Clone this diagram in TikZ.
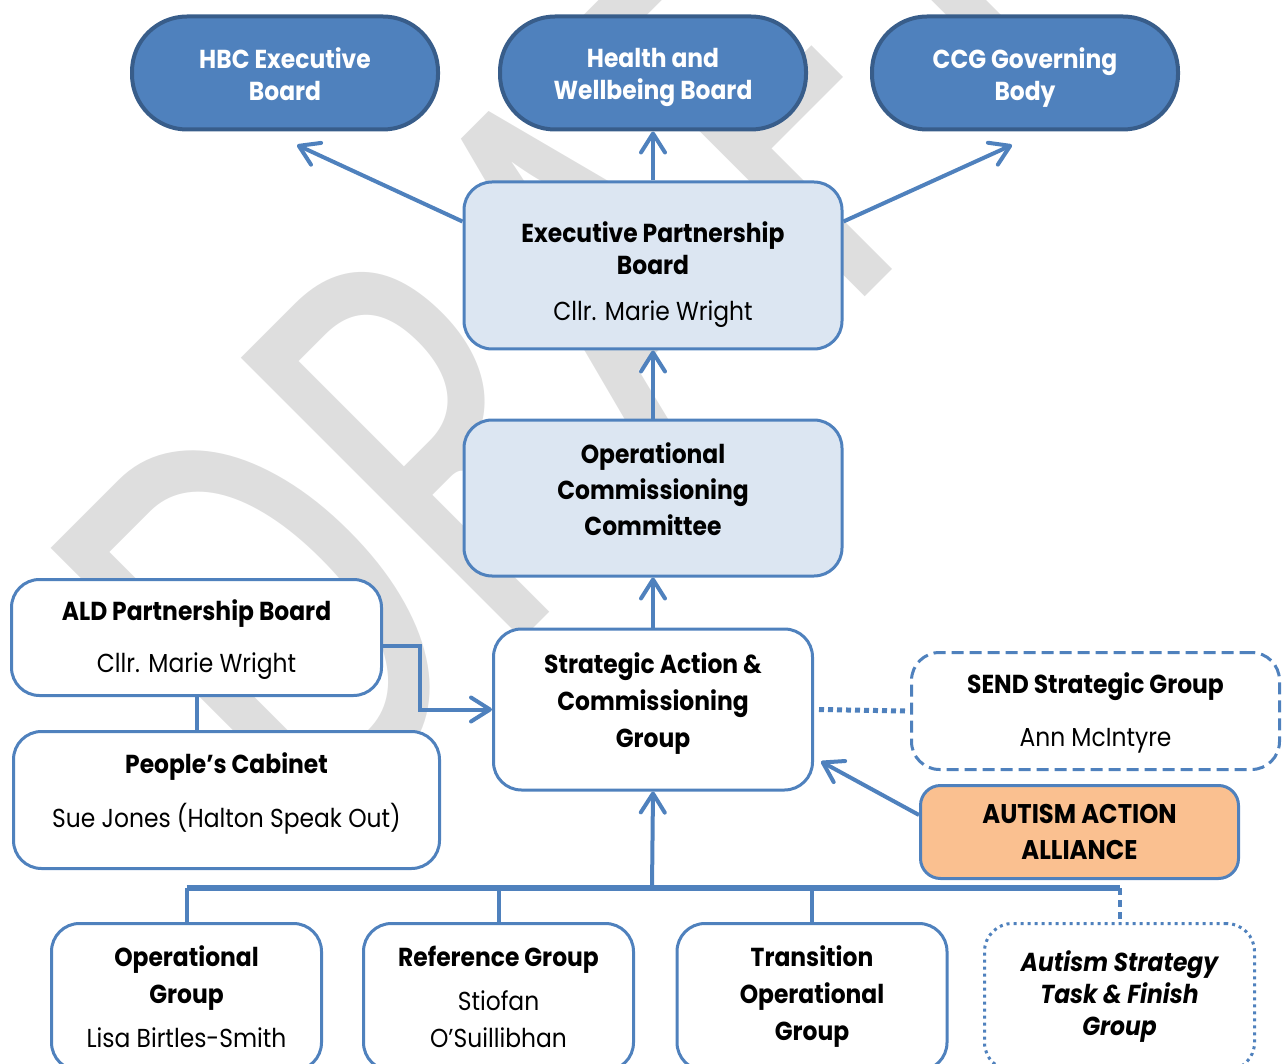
\documentclass[tikz,border=0pt]{standalone}
\usepackage{fontspec}
\setmainfont{Poppins}[FakeStretch=0.9]
\newfontfamily\wmfont{Carlito}[FakeStretch=0.7]
\usetikzlibrary{positioning}
\usetikzlibrary{arrows.meta}

\definecolor{boardblue}{HTML}{4F81BD}
\definecolor{boardedge}{HTML}{385D8A}
\definecolor{paleblue}{HTML}{DCE6F2}
\definecolor{peach}{HTML}{FAC090}
\definecolor{wmgrey}{HTML}{DEDEDE}

\tikzset{
  board/.style={draw=boardedge, line width=4pt, fill=boardblue, rounded corners=55pt,
    text=white, font=\bfseries, align=center, minimum width=306pt, minimum height=113pt},
  panel/.style={draw=boardblue, line width=3pt, fill=white, rounded corners=28pt, align=center},
  conn/.style={draw=boardblue, line width=4pt},
  arr/.style={conn, -{Straight Barb[length=19pt,width=24pt,round]}},
  busline/.style={draw=boardblue, line width=6pt},
  dotline/.style={draw=boardblue, line width=5pt, dash pattern=on 5pt off 4pt},
  watermark/.style={text=wmgrey, font=\wmfont\fontsize{620}{620}\selectfont, rotate=45}
}

\begin{document}
\fontsize{26}{32}\selectfont
\begin{tikzpicture}[x=1pt,y=-1pt]
  \useasboundingbox (0,0) rectangle (1285,1064);

  % watermark behind everything
  \node[watermark] (draft) at (583,298) {DRAFT};

  % boards at the top
  \node[board] (hwb) at (653,73) {\rule{0pt}{29pt}Health and\\Wellbeing Board};
  \node[board, left=58pt of hwb] (hbc) {\rule{0pt}{29pt}HBC Executive\\Board\rule[-6pt]{0pt}{0pt}};
  \node[board, right=62pt of hwb] (ccg) {\rule{0pt}{29pt}CCG Governing\\Body};

  % main column
  \node[panel, fill=paleblue, minimum width=378pt, minimum height=167pt, below=49pt of hwb] (epb)
    {\rule{0pt}{39pt}\textbf{Executive Partnership}\\\textbf{Board}\\[14pt]Cllr. Marie Wright};
  \node[panel, fill=paleblue, font=\bfseries, minimum width=378pt, minimum height=156pt, below=68pt of epb] (occ)
    {Operational\\[4pt]Commissioning\\[4pt]Committee\rule[-18pt]{0pt}{0pt}};
  \node[panel, font=\bfseries, minimum width=319pt, minimum height=161pt, below=50pt of occ] (sacg)
    {Strategic Action \&\\[5pt]Commissioning\\[5pt]Group\rule[-19pt]{0pt}{0pt}};

  % left side
  \node[panel, minimum width=370pt, minimum height=116pt] (ald) at (196.5,637.5)
    {\rule{0pt}{25pt}\textbf{ALD Partnership Board}\\[20pt]Cllr. Marie Wright};
  \node[panel, minimum width=426pt, minimum height=137pt] (pc) at (226.5,800)
    {\textbf{People’s Cabinet}\\[22pt]Sue Jones (Halton Speak Out)\rule[-20pt]{0pt}{0pt}};

  % right side
  \node[panel, dash pattern=on 12pt off 6pt, minimum width=368pt, minimum height=117pt] (send) at (1095.5,711)
    {\rule{0pt}{25pt}\textbf{SEND Strategic Group}\\[21pt]Ann McIntyre};
  \node[panel, fill=peach, rounded corners=20pt, font=\bfseries\fontsize{27}{32}\selectfont,
    minimum width=318pt, minimum height=93pt] (aaa) at (1079.5,832)
    {AUTISM ACTION\\[4pt]ALLIANCE};

  % groups at the bottom
  \node[panel, minimum width=270pt, minimum height=147pt] (og) at (186.5,997)
    {\textbf{Operational}\\[5pt]\textbf{Group}\\[12pt]Lisa Birtles-Smith};
  \node[panel, minimum width=270pt, minimum height=147pt] (rg) at (498.5,997)
    {\textbf{Reference Group}\\[12pt]Stiofan\\[5pt]O’Suillibhan};
  \node[panel, font=\bfseries, minimum width=270pt, minimum height=147pt] (tog) at (812,997)
    {Transition\\[5pt]Operational\\[5pt]Group};
  \node[panel, font=\bfseries\itshape, dash pattern=on 3pt off 4pt, minimum width=270pt, minimum height=147pt] (astf) at (1119.5,997)
    {Autism Strategy\\Task \& Finish\\Group};

  % connectors
  \coordinate (hbcend) at (297,145);
  \coordinate (ccgend) at (1012,145);
  \coordinate (bus) at (652,888);

  \draw[arr] ([yshift=44pt]epb.west) -- (hbcend);
  \draw[arr] ([yshift=44pt]epb.east) -- (ccgend);
  \draw[arr] (epb.north) -- (hwb.south);
  \draw[arr] (occ.north) -- (epb.south);
  \draw[arr] (sacg.north) -- (occ.south);
  \draw[conn] (ald.south) -- (ald.south |- pc.north);
  \draw[arr] ([yshift=-8pt]ald.east) -- ++(37,0) |- (sacg.west);
  \draw[dotline] ([xshift=5pt]sacg.east) -- ([xshift=-5pt]send.west);
  \draw[arr] ([yshift=17pt]aaa.west) -- ([xshift=7pt,yshift=-52pt]sacg.east);

  \draw[busline] (og.north |- bus) -- (astf.north |- bus);
  \draw[arr] (bus) -- (sacg.south);
  \foreach \grp in {og,rg,tog}
    \draw[conn] (\grp.north |- bus) -- (\grp.north);
  \draw[conn, dash pattern=on 7pt off 5pt] (astf.north |- bus) -- (astf.north);
\end{tikzpicture}
\end{document}
